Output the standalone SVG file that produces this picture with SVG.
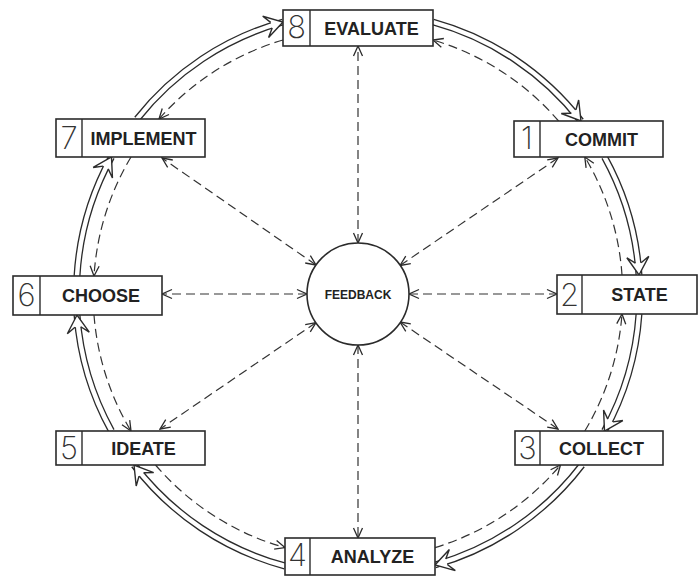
<svg xmlns="http://www.w3.org/2000/svg" width="699" height="581" viewBox="0 0 699 581">
<defs>
<style>
.box{fill:#fff;stroke:#2b2b2b;stroke-width:1.6}
.div{stroke:#2b2b2b;stroke-width:1.4}
.lbl{font-family:"Liberation Sans",Arial,sans-serif;font-weight:bold;font-size:18px;fill:#222;text-anchor:middle}
.num{font-family:Inter,Roboto,"Liberation Sans",Arial,sans-serif;font-weight:200;font-size:31px;fill:#333;text-anchor:middle}
.fb{font-family:"Liberation Sans",Arial,sans-serif;font-weight:bold;font-size:12px;fill:#222;text-anchor:middle}
.out{fill:none;stroke:#2b2b2b;stroke-width:7}
.in{fill:none;stroke:#fff;stroke-width:4.4}
.hd{fill:none;stroke:none;marker-end:url(#dbl)}
.dash{fill:none;stroke:#333;stroke-width:1.2;stroke-dasharray:9 5}
.spoke{marker-start:url(#v);marker-end:url(#v)}
.ring{marker-end:url(#v)}
</style>
<marker id="v" markerUnits="userSpaceOnUse" viewBox="0 0 12 12" markerWidth="12" markerHeight="12" refX="11" refY="6" orient="auto-start-reverse">
<path d="M1,1.5 L11,6 L1,10.5" fill="none" stroke="#2b2b2b" stroke-width="1.3" stroke-dasharray="none"/>
</marker>
<marker id="dbl" markerUnits="userSpaceOnUse" viewBox="0 0 22 28" markerWidth="22" markerHeight="28" refX="20" refY="14" orient="auto">
<path d="M8,11.1 L2,3 L20,14 L2,25 L8,16.9" fill="#fff" stroke="#2b2b2b" stroke-width="1.4" stroke-linejoin="miter"/>
</marker>
<g id="outer">
<path d="M433,22 A282,282 0 0 1 581,121"/>
<path d="M604.5,157 A282,282 0 0 1 639,275"/>
<path d="M639,314 A282,282 0 0 1 604.5,431"/>
<path d="M582,465 A282,282 0 0 1 435,565"/>
<path d="M285,566 A282,282 0 0 1 134,465"/>
<path d="M111.5,431 A282,282 0 0 1 77,315"/>
<path d="M77,276 A282,282 0 0 1 111.5,157"/>
<path d="M137,119 A282,282 0 0 1 283,22"/>
</g>
</defs>
<rect width="699" height="581" fill="#fff"/>
<g id="connectors">
<use href="#outer" class="out"/>
<use href="#outer" class="in"/>
<use href="#outer" class="hd"/>
<g class="dash ring">
<path d="M558.6,121 A265,265 0 0 0 433,40"/>
<path d="M622,275 A265,265 0 0 0 584.8,157"/>
<path d="M584.8,431 A265,265 0 0 0 622,314"/>
<path d="M435,547.6 A265,265 0 0 0 560.5,465"/>
<path d="M155.5,465 A265,265 0 0 0 285,547.6"/>
<path d="M94,315 A265,265 0 0 0 131,431"/>
<path d="M131,157 A265,265 0 0 0 94,276"/>
<path d="M283,40 A265,265 0 0 0 159,119"/>
</g>
<g class="dash spoke">
<path d="M358,243 L358,46"/>
<path d="M358,345 L358,538"/>
<path d="M307,294 L162,294"/>
<path d="M409,294 L557,294"/>
<path d="M400,265.5 L558,158"/>
<path d="M316,265 L162,158"/>
<path d="M316,322.6 L160,429"/>
<path d="M400,322 L558,429"/>
</g>
</g>
<g id="feedback">
<circle cx="358" cy="294" r="51" fill="#fff" stroke="#2b2b2b" stroke-width="1.6"/>
<text class="fb" x="358" y="298.5">FEEDBACK</text>
</g>
<g id="n8">
<rect class="box" x="283" y="10" width="150" height="36"/>
<line class="div" x1="310" y1="10" x2="310" y2="46"/>
<text class="num" x="296.5" y="38">8</text>
<text class="lbl" x="371.5" y="34.5">EVALUATE</text>
</g>
<g id="n1">
<rect class="box" x="514" y="121" width="149" height="36"/>
<line class="div" x1="540" y1="121" x2="540" y2="157"/>
<text class="num" x="527" y="149">1</text>
<text class="lbl" x="601.5" y="145.5">COMMIT</text>
</g>
<g id="n2">
<rect class="box" x="557" y="275" width="140" height="39"/>
<line class="div" x1="582" y1="275" x2="582" y2="314"/>
<text class="num" x="569.5" y="306">2</text>
<text class="lbl" x="639.5" y="301">STATE</text>
</g>
<g id="n3">
<rect class="box" x="515" y="431" width="148" height="34"/>
<line class="div" x1="540" y1="431" x2="540" y2="465"/>
<text class="num" x="527.5" y="459">3</text>
<text class="lbl" x="601.5" y="454.5">COLLECT</text>
</g>
<g id="n4">
<rect class="box" x="285" y="538" width="150" height="37"/>
<line class="div" x1="310" y1="538" x2="310" y2="575"/>
<text class="num" x="297.5" y="566">4</text>
<text class="lbl" x="372.5" y="563">ANALYZE</text>
</g>
<g id="n5">
<rect class="box" x="56" y="431" width="149" height="34"/>
<line class="div" x1="82" y1="431" x2="82" y2="465"/>
<text class="num" x="69" y="459">5</text>
<text class="lbl" x="143.5" y="454.5">IDEATE</text>
</g>
<g id="n6">
<rect class="box" x="13" y="276" width="149" height="39"/>
<line class="div" x1="40" y1="276" x2="40" y2="315"/>
<text class="num" x="26.5" y="306">6</text>
<text class="lbl" x="101" y="302">CHOOSE</text>
</g>
<g id="n7">
<rect class="box" x="56" y="119" width="149" height="38"/>
<line class="div" x1="82" y1="119" x2="82" y2="157"/>
<text class="num" x="69" y="149">7</text>
<text class="lbl" x="143.5" y="144.5">IMPLEMENT</text>
</g>
</svg>
